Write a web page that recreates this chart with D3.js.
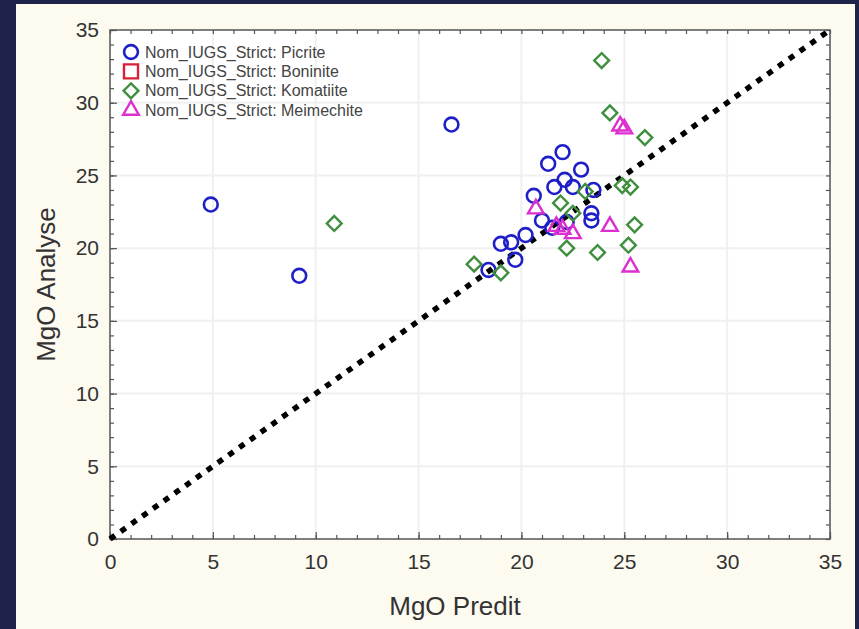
<!DOCTYPE html>
<html>
<head>
<meta charset="utf-8">
<script src="https://cdn.jsdelivr.net/npm/d3@7"></script>
<style>
  html, body { margin: 0; padding: 0; background: #1e2349; }
  svg { display: block; }
</style>
</head>
<body>
<svg id="chart" width="859" height="629"></svg>
<script>
// MgO predicted vs. analysed, by IUGS rock name
const picrite = [
  [4.9, 23.0], [9.2, 18.1], [16.6, 28.5],
  [22.0, 26.6], [21.3, 25.8], [22.9, 25.4], [22.1, 24.7], [21.6, 24.2],
  [22.5, 24.2], [23.5, 24.0], [20.6, 23.6], [23.4, 22.4], [23.4, 21.9],
  [21.0, 21.9], [21.5, 21.4], [22.2, 21.8], [20.2, 20.9], [19.5, 20.4],
  [19.0, 20.3], [19.7, 19.2], [18.4, 18.5]
];
const boninite = [];
const komatiite = [
  [23.9, 32.9], [24.3, 29.3], [26.0, 27.6], [10.9, 21.7],
  [23.1, 23.9], [21.9, 23.1], [24.9, 24.3], [25.3, 24.2], [25.5, 21.6],
  [25.2, 20.2], [23.7, 19.7], [22.2, 20.0], [17.7, 18.9], [19.0, 18.3],
  [22.5, 22.4]
];
const meimechite = [
  [24.8, 28.4], [25.0, 28.2], [20.7, 22.7], [21.7, 21.5], [22.0, 21.3],
  [22.5, 21.0], [24.3, 21.5], [25.3, 18.7]
];

const seriesNames = ["Nom_IUGS_Strict: Picrite", "Nom_IUGS_Strict: Boninite",
                     "Nom_IUGS_Strict: Komatiite", "Nom_IUGS_Strict: Meimechite"];
const majorTicks = [0, 5, 10, 15, 20, 25, 30, 35];
const minorTicks = d3.range(0, 36, 1);
const xTitle = "MgO Predit";
const yTitle = "MgO Analyse";

const series = [
  { name: seriesNames[0], data: picrite,    shape: "circle",   color: "#1f1fc8" },
  { name: seriesNames[1], data: boninite,   shape: "square",   color: "#d8203a" },
  { name: seriesNames[2], data: komatiite,  shape: "diamond",  color: "#3f8f3f" },
  { name: seriesNames[3], data: meimechite, shape: "triangle", color: "#dd2fd0" }
];

const svg = d3.select("#chart");
const font = "'Liberation Sans', Arial, sans-serif";

// cream panel
svg.append("rect").attr("x", 16).attr("y", 4).attr("width", 839).attr("height", 640)
  .attr("fill", "#fdfaf0");

const plotL = 110, plotR = 830, plotT = 30, plotB = 539;
const x = d3.scaleLinear().domain([0, 35]).range([plotL, plotR]);
const y = d3.scaleLinear().domain([0, 35]).range([plotB, plotT]);

svg.append("rect").attr("x", plotL).attr("y", plotT)
  .attr("width", plotR - plotL).attr("height", plotB - plotT).attr("fill", "#ffffff");

// faint grid
const grid = svg.append("g").attr("stroke", "#f0f0f0").attr("stroke-width", 2);
majorTicks.slice(1, -1).forEach(t => {
  grid.append("line").attr("x1", x(t)).attr("x2", x(t)).attr("y1", plotT).attr("y2", plotB);
  grid.append("line").attr("y1", y(t)).attr("y2", y(t)).attr("x1", plotL).attr("x2", plotR);
});

// axes with inward ticks
const axisColor = "#555";
function styleAxis(g) {
  g.select(".domain").remove();
  g.selectAll("line").attr("stroke", axisColor).attr("stroke-width", 1.2);
}
svg.append("g").attr("transform", `translate(0,${plotB})`)
  .call(d3.axisBottom(x).tickValues(minorTicks).tickSizeInner(-4).tickSizeOuter(0).tickFormat(""))
  .call(styleAxis);
svg.append("g").attr("transform", `translate(0,${plotT})`)
  .call(d3.axisTop(x).tickValues(minorTicks).tickSizeInner(-4).tickSizeOuter(0).tickFormat(""))
  .call(styleAxis);
svg.append("g").attr("transform", `translate(${plotL},0)`)
  .call(d3.axisLeft(y).tickValues(minorTicks).tickSizeInner(-4).tickSizeOuter(0).tickFormat(""))
  .call(styleAxis);
svg.append("g").attr("transform", `translate(${plotR},0)`)
  .call(d3.axisRight(y).tickValues(minorTicks).tickSizeInner(-4).tickSizeOuter(0).tickFormat(""))
  .call(styleAxis);

// major labels
const xLab = svg.append("g").attr("transform", `translate(0,${plotB})`)
  .call(d3.axisBottom(x).tickValues(majorTicks).tickSize(-7).tickPadding(15));
xLab.select(".domain").remove();
xLab.selectAll("line").attr("stroke", axisColor).attr("stroke-width", 1.2);
xLab.selectAll("text").attr("font-family", font).attr("font-size", 21).attr("fill", "#333");

const yLab = svg.append("g").attr("transform", `translate(${plotL},0)`)
  .call(d3.axisLeft(y).tickValues(majorTicks).tickSize(-7).tickPadding(11));
yLab.select(".domain").remove();
yLab.selectAll("line").attr("stroke", axisColor).attr("stroke-width", 1.2);
yLab.selectAll("text").attr("font-family", font).attr("font-size", 21).attr("fill", "#333");

// frame
svg.append("rect").attr("x", plotL).attr("y", plotT)
  .attr("width", plotR - plotL).attr("height", plotB - plotT)
  .attr("fill", "none").attr("stroke", "#555").attr("stroke-width", 1.5);

// axis titles
svg.append("text").attr("x", 455).attr("y", 615)
  .attr("text-anchor", "middle").attr("font-family", font).attr("font-size", 26)
  .attr("fill", "#333").text(xTitle);
svg.append("text").attr("transform", `translate(55,${(plotT + plotB) / 2}) rotate(-90)`)
  .attr("text-anchor", "middle").attr("font-family", font).attr("font-size", 26)
  .attr("fill", "#333").text(yTitle);

// 1:1 line
svg.append("line")
  .attr("x1", x(0)).attr("y1", y(0)).attr("x2", x(35)).attr("y2", y(35))
  .attr("stroke", "#000").attr("stroke-width", 5.5).attr("stroke-dasharray", "6,7.2");

// markers
const symbolGen = {
  circle:   d3.symbol().type(d3.symbolCircle).size(150),
  square:   d3.symbol().type(d3.symbolSquare2).size(250),
  diamond:  d3.symbol().type(d3.symbolSquare2).size(140),
  triangle: d3.symbol().type(d3.symbolTriangle2).size(175)
};
function drawMarker(g, s, px, py) {
  g.append("path").attr("d", symbolGen[s.shape]())
    .attr("transform", `translate(${px},${py})${s.shape === "diamond" ? " rotate(45)" : ""}`)
    .attr("fill", "none").attr("stroke", s.color)
    .attr("stroke-width", s.shape === "circle" ? 2.6 : 2.4);
}

const marks = svg.append("g");
series.forEach(s => {
  s.data.forEach(d => drawMarker(marks, s, x(d[0]), y(d[1])));
});

// legend
const legend = svg.append("g");
series.forEach((s, i) => {
  const ly = 52 + i * 19.4;
  drawMarker(legend, s, 131, ly);
  legend.append("text").attr("x", 145).attr("y", ly + 5.5)
    .attr("font-family", font).attr("font-size", 16).attr("fill", "#444")
    .text(s.name);
});
</script>
</body>
</html>
